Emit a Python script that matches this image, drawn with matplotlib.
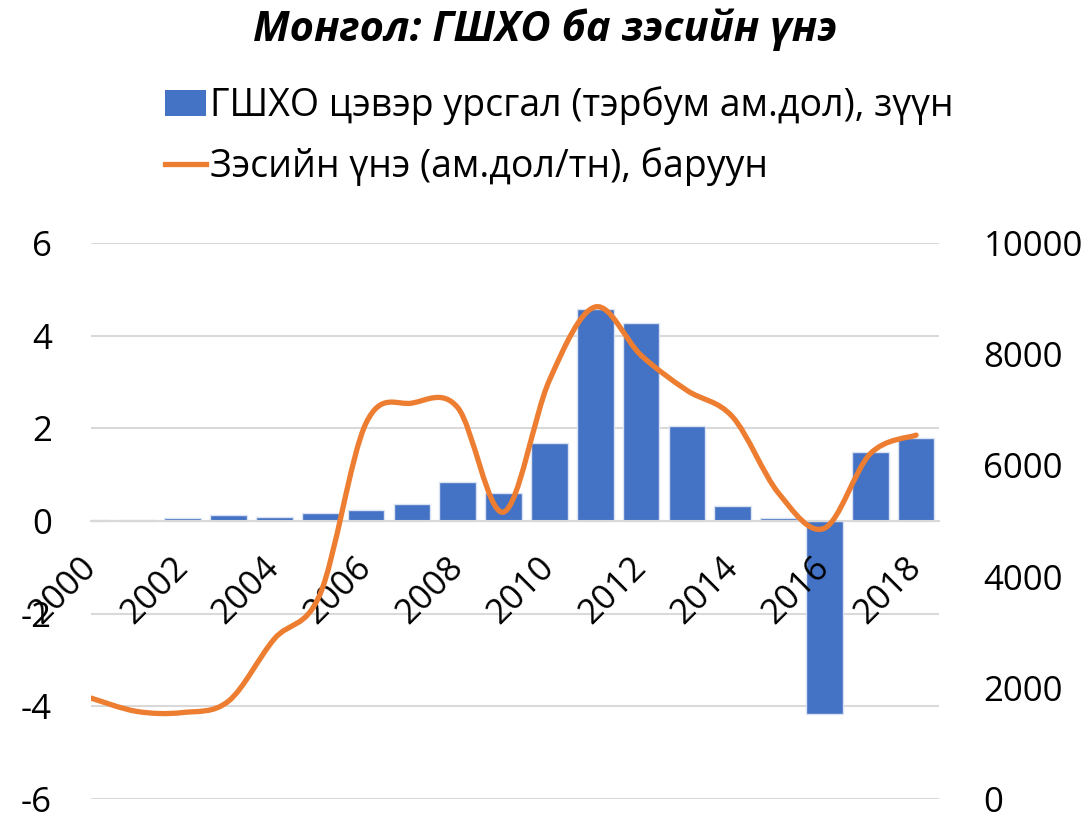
import numpy as np
import matplotlib
matplotlib.use("Agg")
import matplotlib.pyplot as plt
from matplotlib.path import Path
from matplotlib.patches import PathPatch
from matplotlib.lines import Line2D
from matplotlib.patches import Patch

plt.rcParams["font.family"] = ["Open Sans", "DejaVu Sans"]
plt.rcParams["axes.unicode_minus"] = False

years = list(range(2000, 2019))
# FDI net inflow, bn USD (left axis)
fdi = [0.02, 0.03, 0.07, 0.12, 0.08, 0.18, 0.23, 0.36, 0.84, 0.61,
       1.69, 4.57, 4.27, 2.05, 0.32, 0.07, -4.16, 1.48, 1.79]
# copper price, USD/t (right axis)
copper = [1815, 1575, 1555, 1760, 2880, 3690, 6760, 7120, 7040, 5160,
          7530, 8850, 7980, 7350, 6870, 5500, 4870, 6210, 6545]
left_ticks = [-6, -4, -2, 0, 2, 4, 6]
right_ticks = [0, 2000, 4000, 6000, 8000, 10000]

title = "Монгол: ГШХО ба зэсийн үнэ"
lbl_bar = "ГШХО цэвэр урсгал (тэрбум ам.дол), зүүн"
lbl_line = "Зэсийн үнэ (ам.дол/тн), баруун"

BLUE = "#4472C4"
ORANGE = "#ED7D31"
GRID = "#d9d9d9"


def smooth_path(xs, ys):
    # Catmull-Rom through the points, as cubic bezier segments
    pts = np.column_stack([xs, ys]).astype(float)
    n = len(pts)
    verts = [pts[0]]
    codes = [Path.MOVETO]
    for i in range(n - 1):
        p0 = pts[max(i - 1, 0)]
        p1 = pts[i]
        p2 = pts[i + 1]
        p3 = pts[min(i + 2, n - 1)]
        c1 = p1 + (p2 - p0) / 6.0
        c2 = p2 - (p3 - p1) / 6.0
        verts += [c1, c2, p2]
        codes += [Path.CURVE4] * 3
    return Path(verts, codes)


fig = plt.figure(figsize=(10.91, 8.17), dpi=100)
ax = fig.add_axes([91 / 1091, 1 - 799 / 817, (939 - 91) / 1091, (799 - 243) / 817])
x = np.arange(len(years))

# gridlines drawn by hand so tick labels can sit above the bars
for v in left_ticks:
    ax.axhline(v, color=GRID, linewidth=1.5, zorder=1)
ax.bar(x, fdi, width=0.8, color=BLUE, edgecolor="#dbe3f3", linewidth=1.0, zorder=2)
ax.set_axisbelow(False)
ax.set_xlim(0, 18.5)
ax.set_ylim(-6, 6)
ax.set_yticks(left_ticks)
for s in ("left", "right", "top"):
    ax.spines[s].set_visible(False)
ax.spines["bottom"].set_position(("data", 0))
ax.spines["bottom"].set_color(GRID)
ax.spines["bottom"].set_linewidth(1.5)
ax.set_xticks(x[::2])
ax.set_xticklabels([str(y) for y in years[::2]], rotation=45,
                   ha="right", va="center", rotation_mode="anchor")
ax.tick_params(axis="x", length=0, pad=30, labelsize=25)
ax.tick_params(axis="y", length=0, pad=28, labelsize=25)

ax2 = ax.twinx()
ax2.set_ylim(0, 10000)
ax2.set_yticks(right_ticks)
ax2.tick_params(axis="y", length=0, pad=32, labelsize=25)
for s in ax2.spines.values():
    s.set_visible(False)
ax2.add_patch(PathPatch(smooth_path(x, copper), facecolor="none",
                        edgecolor=ORANGE, linewidth=3.8, capstyle="round",
                        zorder=3))

fig.text(0.5, 1 - 30 / 817, title, ha="center", va="center",
         fontsize=30, fontweight="bold", fontstyle="italic")

handles = [Patch(facecolor=BLUE, edgecolor="none"),
           Line2D([0], [0], color=ORANGE, linewidth=3.8)]
fig.legend(handles, [lbl_bar, lbl_line], loc="upper center",
           bbox_to_anchor=(559 / 1091, 1 - 60 / 817), frameon=False,
           fontsize=27, handlelength=1.1, handletextpad=0.1,
           labelspacing=0.6, borderpad=0.2)

fig.savefig("out.png", dpi=100)
